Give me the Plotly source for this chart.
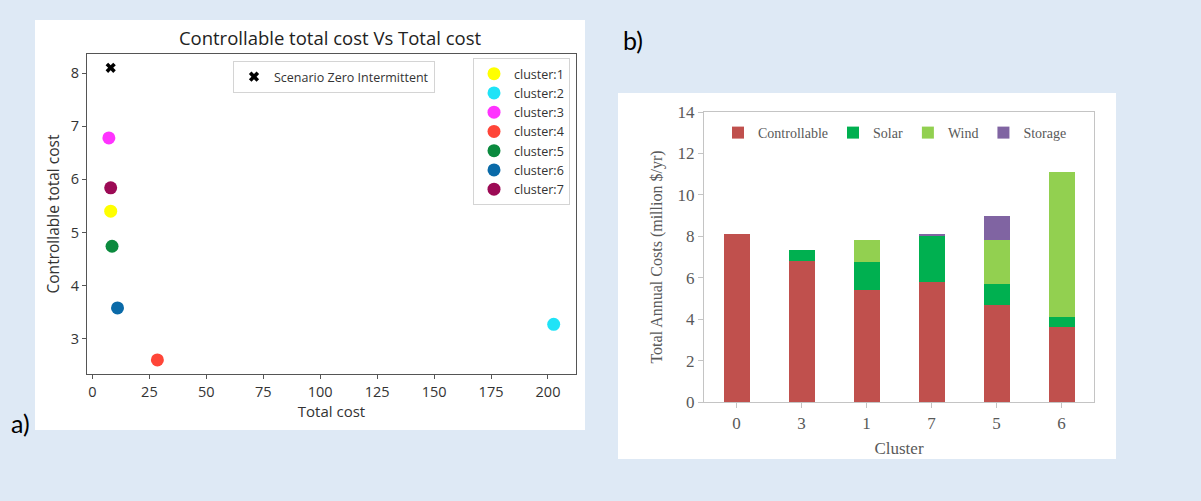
import plotly.graph_objects as go

# ---- Panel a) data ----
cluster_names = ["cluster:1", "cluster:2", "cluster:3", "cluster:4", "cluster:5", "cluster:6", "cluster:7"]
cluster_colors = ["#ffff00", "#1fe3f7", "#ff33ff", "#ff4538", "#0b8a3e", "#0a6aa8", "#9c0a55"]
total_cost = [8.0, 202.5, 7.2, 28.5, 8.6, 11.0, 8.0]
controllable_total = [5.40, 3.27, 6.78, 2.60, 4.74, 3.58, 5.84]
scenario_total = [8.0]
scenario_controllable = [8.1]
x_ticks_a = [0, 25, 50, 75, 100, 125, 150, 175, 200]
y_ticks_a = [3, 4, 5, 6, 7, 8]

# ---- Panel b) data ----
clusters = ["0", "3", "1", "7", "5", "6"]
controllable = [8.10, 6.80, 5.42, 5.81, 4.70, 3.62]
solar = [0.00, 0.52, 1.32, 2.20, 1.00, 0.48]
wind = [0.00, 0.00, 1.06, 0.00, 2.10, 7.00]
storage = [0.00, 0.00, 0.00, 0.12, 1.20, 0.00]
y_ticks_b = [0, 2, 4, 6, 8, 10, 12, 14]

W, H = 1201, 501


def px(x):
    return x / W


def py(y):
    return 1 - y / H


fig = go.Figure()

for name, col, xv, yv in zip(cluster_names, cluster_colors, total_cost, controllable_total):
    fig.add_trace(go.Scatter(
        x=[xv], y=[yv], mode="markers", name=name,
        marker=dict(color=col, size=13, line=dict(width=0)),
        xaxis="x", yaxis="y", legend="legend",
    ))

fig.add_trace(go.Scatter(
    x=scenario_total, y=scenario_controllable, mode="markers",
    name="Scenario Zero Intermittent",
    marker=dict(color="black", size=9, symbol="x", line=dict(width=0)),
    xaxis="x", yaxis="y", legend="legend2",
))

bar_series = [
    ("Controllable", controllable, "#c0504d"),
    ("Solar", solar, "#00b050"),
    ("Wind", wind, "#92d050"),
    ("Storage", storage, "#8064a2"),
]
for name, vals, col in bar_series:
    fig.add_trace(go.Bar(
        x=clusters, y=vals, name=name, width=0.4,
        marker=dict(color=col, line=dict(width=0)),
        xaxis="x2", yaxis="y2", legend="legend3",
    ))

sans = "Open Sans"
serif = "Liberation Serif"
axis_a_col = "#555555"
text_a = "#333333"
gray_b = "#595959"

fig.update_layout(
    template="none",
    width=W, height=H,
    margin=dict(l=0, r=0, t=0, b=0),
    paper_bgcolor="#dee9f5",
    plot_bgcolor="rgba(0,0,0,0)",
    barmode="stack",
    showlegend=True,
    title=dict(
        text="Controllable total cost Vs Total cost",
        x=px(330), y=py(39), xanchor="center", yanchor="middle",
        font=dict(family=sans, size=18.5, color="#222222"),
    ),
    xaxis=dict(
        domain=[px(87), px(576)], anchor="y",
        range=[-2.4, 212.3], tickvals=x_ticks_a,
        showgrid=False, zeroline=False,
        showline=True, linecolor=axis_a_col, linewidth=1.3, mirror=True,
        ticks="outside", ticklen=4, tickcolor=axis_a_col,
        tickfont=dict(family=sans, size=14.5, color=text_a),
        title=dict(text="Total cost", standoff=4,
                   font=dict(family=sans, size=15, color=text_a)),
        automargin=False,
    ),
    yaxis=dict(
        domain=[py(374), py(54)], anchor="x",
        range=[2.335, 8.36], tickvals=y_ticks_a,
        showgrid=False, zeroline=False,
        showline=True, linecolor=axis_a_col, linewidth=1.3, mirror=True,
        ticks="outside", ticklen=4, tickcolor=axis_a_col,
        tickfont=dict(family=sans, size=14.5, color=text_a),
        title=dict(text="Controllable total cost", standoff=7,
                   font=dict(family=sans, size=15.5, color=text_a)),
        automargin=False,
    ),
    xaxis2=dict(
        domain=[px(704), px(1094)], anchor="y2",
        type="category", range=[-0.5, 5.5],
        showgrid=False, zeroline=False,
        showline=True, linecolor="#c4c4c4", linewidth=1.3, mirror=True,
        ticks="outside", ticklen=5, tickcolor="#c4c4c4",
        tickfont=dict(family=serif, size=17, color=gray_b),
        title=dict(text="Cluster", standoff=10,
                   font=dict(family=serif, size=17, color=gray_b)),
        automargin=False,
    ),
    yaxis2=dict(
        domain=[py(402), py(112)], anchor="x2",
        range=[0, 14], tickvals=y_ticks_b,
        showgrid=False, zeroline=False,
        showline=True, linecolor="#c4c4c4", linewidth=1.3, mirror=True,
        ticks="outside", ticklen=5, tickcolor="#c4c4c4",
        tickfont=dict(family=serif, size=17, color=gray_b),
        title=dict(text="Total Annual Costs (million $/yr)", standoff=10,
                   font=dict(family=serif, size=16, color=gray_b)),
        automargin=False,
    ),
    legend=dict(
        x=px(570), y=py(58), xanchor="right", yanchor="top",
        bgcolor="white", bordercolor="#d4d4d4", borderwidth=1,
        font=dict(family=sans, size=12.5, color=text_a),
        tracegroupgap=0,
    ),
    legend2=dict(
        x=px(233), y=py(61), xanchor="left", yanchor="top",
        bgcolor="white", bordercolor="#d4d4d4", borderwidth=1,
        font=dict(family=sans, size=12.5, color=text_a),
    ),
    legend3=dict(
        x=px(718), y=py(133), xanchor="left", yanchor="middle",
        orientation="h", bgcolor="rgba(0,0,0,0)", borderwidth=0,
        font=dict(family=serif, size=14, color=gray_b),
        itemwidth=30, traceorder="normal",
    ),
    shapes=[
        dict(type="rect", xref="paper", yref="paper", layer="below",
             x0=px(35), x1=px(585), y0=py(430), y1=py(20),
             fillcolor="white", line=dict(width=0)),
        dict(type="rect", xref="paper", yref="paper", layer="below",
             x0=px(618), x1=px(1116), y0=py(459), y1=py(93),
             fillcolor="white", line=dict(width=0)),
    ],
    annotations=[
        dict(text="a)", xref="paper", yref="paper", x=px(9), y=py(423),
             xanchor="left", yanchor="middle", showarrow=False,
             font=dict(family="Lato", size=25, color="black")),
        dict(text="b)", xref="paper", yref="paper", x=px(621), y=py(40),
             xanchor="left", yanchor="middle", showarrow=False,
             font=dict(family="Lato", size=25, color="black")),
    ],
)

fig.write_html(
    "out.html",
    config={"displayModeBar": False},
    post_script="document.body.style.margin='0';document.body.style.overflow='hidden';",
)
